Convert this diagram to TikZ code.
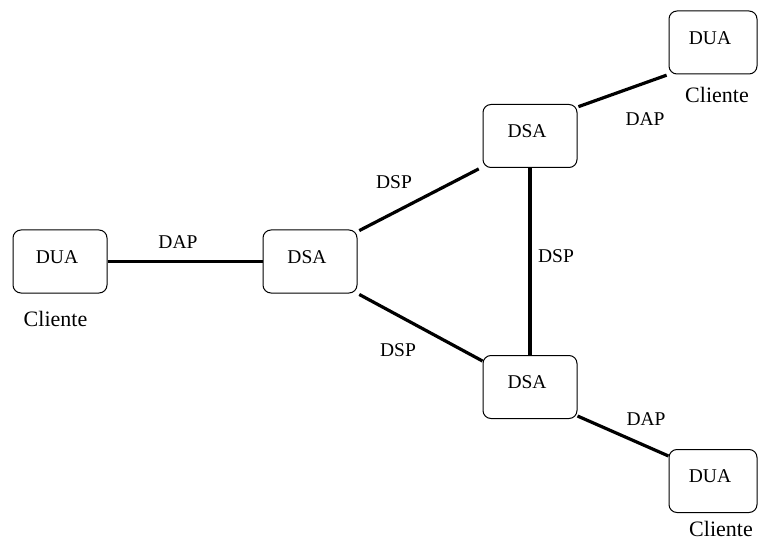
\documentclass[tikz,border=0pt]{standalone}
\usepackage{fontspec}
\setmainfont{Liberation Serif}
\begin{document}
\begin{tikzpicture}[x=1pt,y=-1pt,
  box/.style={draw, line width=1pt, rounded corners=8pt, minimum width=94pt, minimum height=63pt, inner sep=0pt},
  nbox/.style={box, minimum width=88pt},
  boxtxt/.style={inner sep=0pt, xshift=-3pt, yshift=4.5pt, font=\fontsize{19.5}{22}\selectfont},
  link/.style={line width=3.2pt},
  lbl/.style={inner sep=0pt, font=\fontsize{19.5}{22}\selectfont},
  cli/.style={inner sep=0pt, font=\fontsize{22}{26}\selectfont}]
\useasboundingbox (0,0) rectangle (758,540);

% boxes
\node[box]  (dua1) at (60,261.5) {};
\node[box]  (dsa1) at (310,261.5) {};
\node[box]  (dsa2) at (530,136) {};
\node[box]  (dsa3) at (530,387) {};
\node[nbox] (dua2) at (713,42.5) {};
\node[nbox] (dua3) at (713,481) {};

\node[boxtxt] (tdua1) at (dua1.center) {DUA};
\node[boxtxt] (tdsa1) at (dsa1.center) {DSA};
\node[boxtxt] (tdsa2) at (dsa2.center) {DSA};
\node[boxtxt] (tdsa3) at (dsa3.center) {DSA};
\node[boxtxt] (tdua2) at (dua2.center) {DUA};
\node[boxtxt] (tdua3) at (dua3.center) {DUA};

% connectors
\draw[link] (dua1.east) -- (dsa1.west);
\draw[link, shorten <=2pt, shorten >=2pt] ([yshift=-2pt]dsa1.north east) -- ([xshift=-2pt]dsa2.south west);
\draw[link, shorten <=2pt] (dsa1.south east) -- ([yshift=-6pt]dsa3.north west);
\draw[line width=4pt] (dsa2.south) -- (dsa3.north);
\draw[link, shorten <=1pt, shorten >=2pt] ([yshift=-3pt]dsa2.north east) -- ([yshift=0pt]dua2.south west);
\draw[link] ([yshift=3pt]dsa3.south east) -- ([yshift=-7pt]dua3.north west);

% labels
\node[lbl] (l1) at (178,242.5) {DAP};
\node[lbl] (l2) at (394,181.7) {DSP};
\node[lbl] (l3) at (398,349.7) {DSP};
\node[lbl] (l4) at (556,256.3) {DSP};
\node[lbl] (l5) at (645,118.7) {DAP};
\node[lbl] (l6) at (646,419) {DAP};

\node[cli] (c1) at (55.5,319) {Cliente};
\node[cli] (c2) at (717,95) {Cliente};
\node[cli] (c3) at (721,529) {Cliente};
\end{tikzpicture}
\end{document}
